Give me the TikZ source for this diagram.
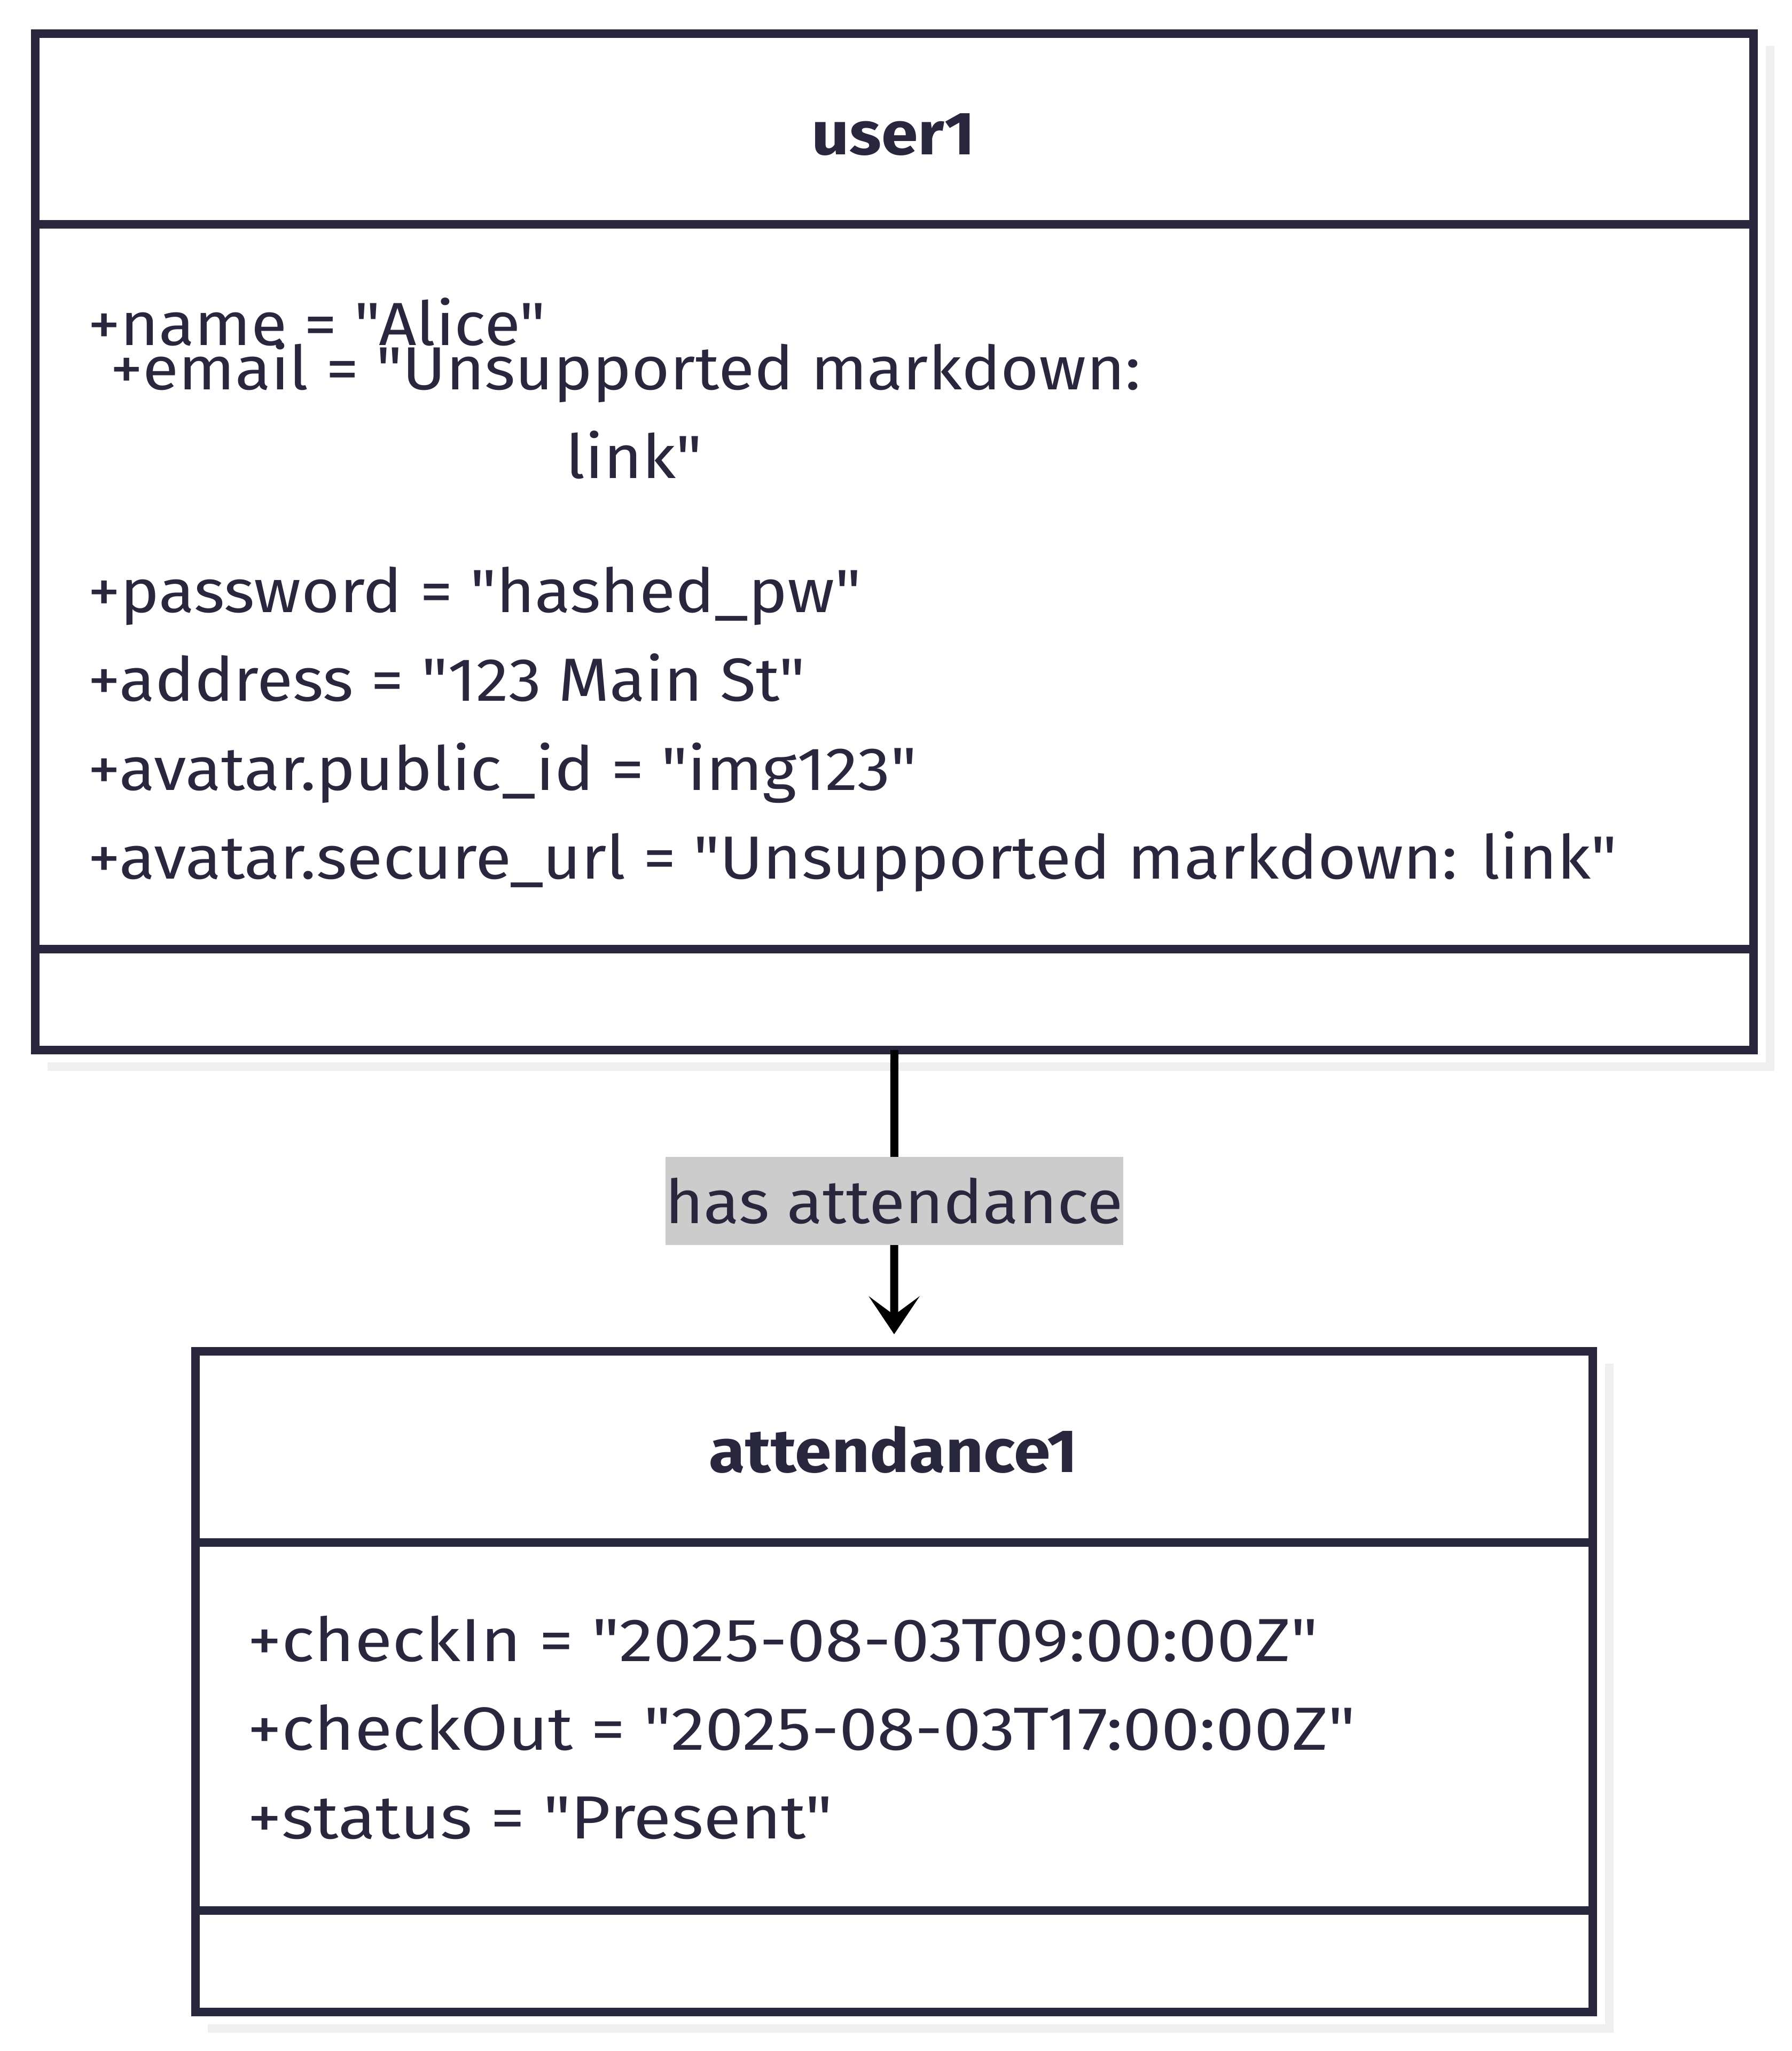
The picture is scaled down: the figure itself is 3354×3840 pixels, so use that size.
\documentclass[tikz,border=0pt]{standalone}
\usepackage{fontspec}
\setmainfont{Fira Sans}[Ligatures=TeXOff, FakeStretch=1.08]
\newfontfamily\titlefam{Fira Sans}[Ligatures=TeXOff, FakeStretch=1.085]
\newfontfamily\attfam{Fira Sans}[Ligatures=TeXOff, FakeStretch=1.13]
\usetikzlibrary{arrows.meta}
\definecolor{ink}{RGB}{40,39,62}
\definecolor{shade}{RGB}{239,239,239}
\definecolor{lblbg}{RGB}{204,204,204}
\newcommand{\attrfont}{\fontsize{11.4pt}{16.6pt}\selectfont}
\newcommand{\attfont}{\attfam\fontsize{11.4pt}{16.6pt}\selectfont}
\newcommand{\titlefont}{\titlefam\fontsize{11.4pt}{16.6pt}\selectfont\bfseries}
\begin{document}
\begin{tikzpicture}[
  x=0.1pt, y=-0.1pt,
  box/.style={draw=ink, line width=1.6pt, fill=white, inner sep=0pt, outer sep=0pt},
  frame/.style={draw=ink, line width=1.6pt},
  attr/.style={anchor=base west, inner sep=0pt, text=ink, font=\attrfont},
  attattr/.style={anchor=base west, inner sep=0pt, text=ink, font=\attfont},
  ctext/.style={anchor=base, inner sep=0pt, text=ink, font=\attrfont},
  title/.style={anchor=base, inner sep=0pt, text=ink, font=\titlefont},
  divider/.style={draw=ink, line width=1.6pt},
  shadowfill/.style={fill=shade},
  conn/.style={draw=black, line width=1.5pt, -{Stealth[length=7.1pt,width=9.5pt,inset=3.5pt]}},
  lbl/.style={fill=lblbg, text=ink, font=\attrfont, inner sep=0pt, minimum width=85.7pt, minimum height=16.5pt}
]
\useasboundingbox (0,0) rectangle (3354,3840);

% boxes
\node[box, minimum width=321.7pt, minimum height=190.3pt] (user1) at (1674.5,1014.5) {};
\node[box, minimum width=261.6pt, minimum height=123.7pt] (att) at (1674,3148.5) {};

% shadows
\fill[shadowfill] ([shift={(23,23)}]user1.north east) rectangle ([shift={(39,39)}]user1.south east);
\fill[shadowfill] ([shift={(23,23)}]user1.south west) rectangle ([shift={(39,39)}]user1.south east);
\fill[shadowfill] ([shift={(23,23)}]att.north east) rectangle ([shift={(39,39)}]att.south east);
\fill[shadowfill] ([shift={(23,23)}]att.south west) rectangle ([shift={(39,39)}]att.south east);

% frames redrawn over the shadows
\draw[frame] (user1.north west) rectangle (user1.south east);
\draw[frame] (att.north west) rectangle (att.south east);

% dividers
\draw[divider] (user1.west |- 0,420) -- (user1.east |- 0,420);
\draw[divider] (user1.west |- 0,1777) -- (user1.east |- 0,1777);
\draw[divider] (att.west |- 0,2888) -- (att.east |- 0,2888);
\draw[divider] (att.west |- 0,3577) -- (att.east |- 0,3577);

% titles
\node[title] (t1) at (1673,289) {user1};
\node[title] (t2) at (1673,2756) {attendance1};

% user1 attributes
\node[attr] (u1) at (162,646) {+name = "Alice"};
\node[ctext] (u2) at (1171,729) {+email = "Unsupported markdown:};
\node[ctext] (u2b) at (1187,895) {link"};
\node[attr] (u3) at (162,1146) {+password = "hashed\_pw"};
\node[attr] (u4) at (162,1312) {+address = "123 Main St"};
\node[attr] (u5) at (162,1479) {+avatar.public\_id = "img123"};
\node[attr] (u6) at (162,1645) {+avatar.secure\_url = "Unsupported markdown: link"};

% attendance attributes
\node[attattr] (a1) at (461,3110) {+checkIn = "2025-08-03T09:00:00Z"};
\node[attattr] (a2) at (461,3276) {+checkOut = "2025-08-03T17:00:00Z"};
\node[attattr] (a3) at (461,3442) {+status = "Present"};

% connector
\draw[conn] (user1.south) -- ([yshift=3.2pt]att.north)
  node[lbl, pos=0.531] (lab) {has attendance};
\end{tikzpicture}
\end{document}
